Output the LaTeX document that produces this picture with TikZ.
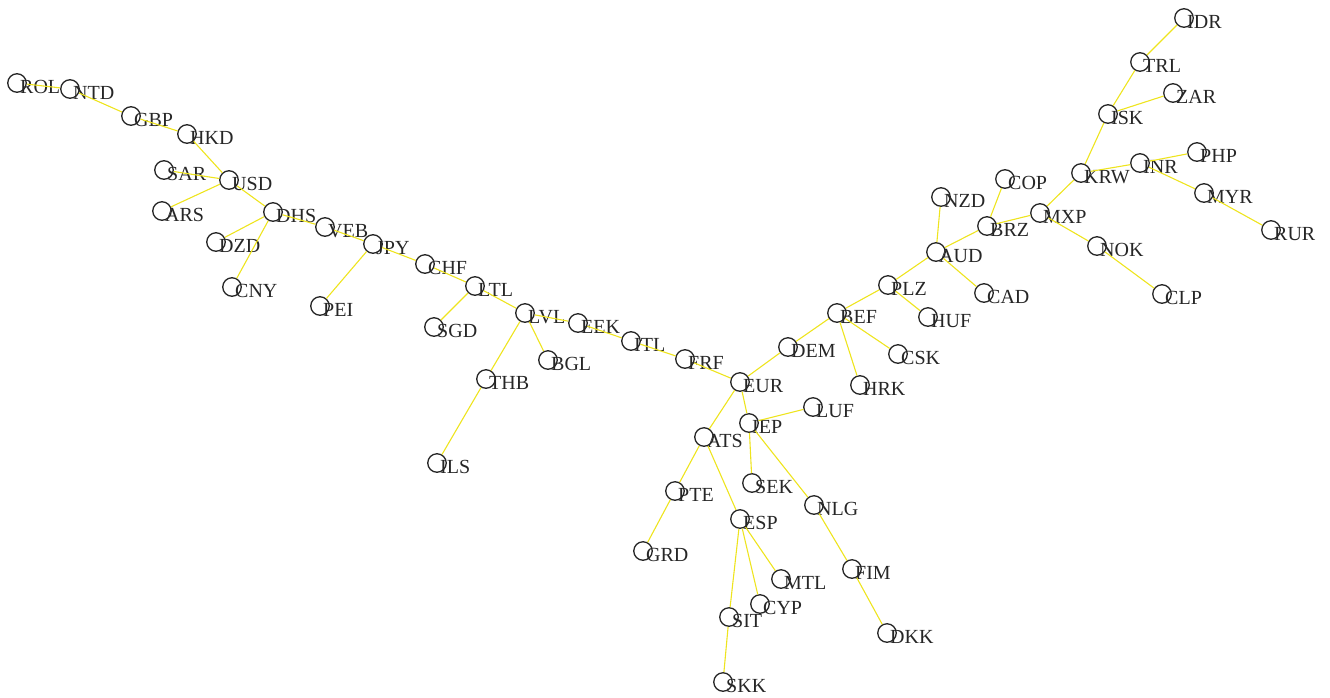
\documentclass[tikz,border=0pt]{standalone}
\usepackage{fontspec}
\setmainfont{Liberation Serif}
\definecolor{edgeyellow}{RGB}{238,228,30}
\definecolor{ink}{RGB}{38,38,38}
\tikzset{
  x=1pt, y=-1pt,
  dot/.style={circle, draw=ink, line width=1.3pt, minimum size=18.5pt, inner sep=0pt},
  lbl/.style={anchor=base west, inner sep=0pt, text=ink, font=\fontsize{20}{21}\selectfont},
  link/.style={draw=edgeyellow, line width=1.1pt}
}
% a currency: circle node named #1 with its code set beside it
\newcommand\cur[3]{\node[dot] (#1) at (#2,#3) {}; \node[lbl] (#1-t) at (#2+3,#3+10) {#1};}
\begin{document}
\begin{tikzpicture}
\useasboundingbox (0,0) rectangle (1330,697);
\cur{ROL}{17}{83}
\cur{NTD}{70}{89}
\cur{GBP}{131}{116}
\cur{HKD}{187}{134}
\cur{SAR}{164}{170}
\cur{USD}{229}{180}
\cur{ARS}{162}{211}
\cur{DHS}{273}{212}
\cur{VEB}{325}{227}
\cur{DZD}{216}{242}
\cur{JPY}{373}{244}
\cur{CNY}{232}{287}
\cur{PEI}{320}{306}
\cur{CHF}{425}{264}
\cur{LTL}{475}{286}
\cur{SGD}{434}{327}
\cur{LVL}{525}{313}
\cur{EEK}{578}{323}
\cur{BGL}{548}{360}
\cur{THB}{486}{379}
\cur{ILS}{437}{463}
\cur{ITL}{631}{341}
\cur{FRF}{685}{359}
\cur{EUR}{740}{382}
\cur{DEM}{788}{347}
\cur{BEF}{837}{313}
\cur{PLZ}{888}{285}
\cur{HUF}{928}{317}
\cur{CSK}{898}{354}
\cur{HRK}{860}{385}
\cur{AUD}{936}{252}
\cur{NZD}{941}{197}
\cur{CAD}{984}{293}
\cur{BRZ}{987}{226}
\cur{COP}{1005}{179}
\cur{MXP}{1040}{213}
\cur{NOK}{1097}{246}
\cur{CLP}{1162}{294}
\cur{KRW}{1081}{173}
\cur{INR}{1140}{163}
\cur{PHP}{1197}{152}
\cur{MYR}{1204}{193}
\cur{RUR}{1271}{230}
\cur{ISK}{1108}{114}
\cur{ZAR}{1173}{93}
\cur{TRL}{1140}{62}
\cur{IDR}{1184}{18}
\cur{LUF}{813}{407}
\cur{IEP}{749}{423}
\cur{ATS}{704}{437}
\cur{SEK}{752}{483}
\cur{NLG}{814}{505}
\cur{PTE}{675}{491}
\cur{ESP}{740}{519}
\cur{GRD}{643}{551}
\cur{MTL}{781}{579}
\cur{CYP}{760}{604}
\cur{SIT}{729}{617}
\cur{FIM}{852}{569}
\cur{DKK}{887}{633}
\cur{SKK}{723}{682}
% tree links between neighbouring currencies
\foreach \a/\b in {ROL/NTD, NTD/GBP, GBP/HKD, HKD/USD, SAR/USD, ARS/USD, USD/DHS,
  DHS/DZD, DHS/CNY, DHS/VEB, VEB/JPY, JPY/PEI, JPY/CHF, CHF/LTL, LTL/SGD, LTL/LVL,
  LVL/EEK, LVL/BGL, LVL/THB, THB/ILS, EEK/ITL, ITL/FRF, FRF/EUR, EUR/DEM, DEM/BEF,
  BEF/PLZ, BEF/CSK, BEF/HRK, PLZ/HUF, PLZ/AUD, AUD/NZD, AUD/CAD, AUD/BRZ, BRZ/COP,
  BRZ/MXP, MXP/KRW, MXP/NOK, NOK/CLP, KRW/INR, INR/PHP, INR/MYR, MYR/RUR, KRW/ISK,
  ISK/ZAR, ISK/TRL, TRL/IDR, EUR/ATS, EUR/IEP, IEP/LUF, IEP/SEK, IEP/NLG, NLG/FIM,
  FIM/DKK, ATS/PTE, PTE/GRD, ATS/ESP, ESP/MTL, ESP/CYP, ESP/SIT, SIT/SKK}
  \draw[link] (\a) -- (\b);
\end{tikzpicture}
\end{document}
